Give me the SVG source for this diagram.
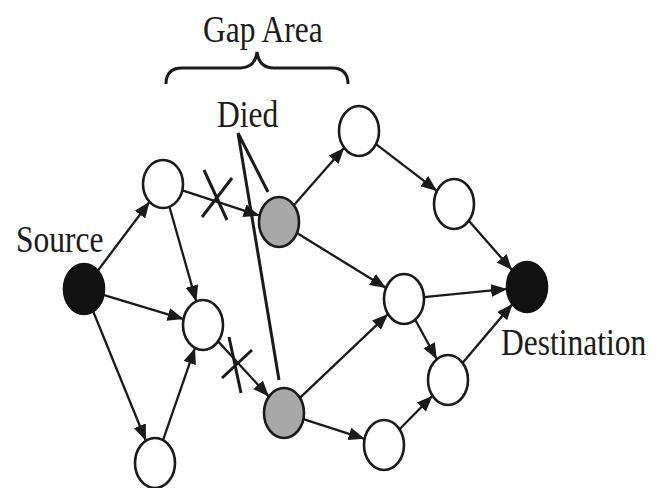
<svg xmlns="http://www.w3.org/2000/svg" width="659" height="488" viewBox="0 0 659 488">
<style>
.n{fill:#fff;stroke:#1a1a1a;stroke-width:2.6}
.g{fill:#a8a8a8;stroke:#1a1a1a;stroke-width:2.6}
.b{fill:#111;stroke:#111;stroke-width:2.6}
.e{stroke:#1a1a1a;stroke-width:2.3;fill:none;marker-end:url(#ah)}
.t{font-family:"Liberation Serif","Times New Roman",serif;font-size:31.5px;fill:#1a1a1a}
.k{stroke:#1a1a1a;stroke-width:3;fill:none}
</style>
<defs>
<marker id="ah" markerUnits="userSpaceOnUse" markerWidth="18" markerHeight="14" refX="16" refY="6.5" orient="auto">
<path d="M0,0 L16,6.5 L0,13 z" fill="#1a1a1a"/>
</marker>
</defs>
<rect width="659" height="488" fill="#fff"/>
<g id="labels">
<text class="t" transform="translate(203,42) scale(1,1.2)">Gap Area</text>
<path class="k" d="M166,84 Q166,68 182,68 L240,68 Q255,68 257,52 Q259,68 274,68 L332,68 Q348,68 348,84" stroke-width="2"/>
<text class="t" transform="translate(217,127) scale(1,1.2)">Died</text>
<text class="t" transform="translate(16,252) scale(1,1.2)">Source</text>
<text class="t" transform="translate(501,355) scale(1,1.2)">Destination</text>
<path class="k" d="M238,133 L268,192 M238,133 L279,380"/>
<path class="k" d="M204,170 L227,220 M202,217 L232,178"/>
<path class="k" d="M229,337 L241,393 M222,378 L252,350"/>
</g>
<g id="connectors">
<line class="e" x1="97.7" y1="270.8" x2="149.6" y2="201.8"/>
<line class="e" x1="103.4" y1="294.9" x2="183.6" y2="319.1"/>
<line class="e" x1="93.1" y1="311.3" x2="145.9" y2="440.7"/>
<line class="e" x1="169.4" y1="206.7" x2="196.3" y2="301.4"/>
<line class="e" x1="182.3" y1="190.3" x2="259.6" y2="215.7"/>
<line class="e" x1="163" y1="440.1" x2="195" y2="347.9"/>
<line class="e" x1="218.1" y1="341.4" x2="268.9" y2="396.6"/>
<line class="e" x1="293.8" y1="205.2" x2="344.2" y2="147.8"/>
<line class="e" x1="296.9" y1="233.1" x2="386.1" y2="287.9"/>
<line class="e" x1="299.9" y1="397.9" x2="388.1" y2="314.1"/>
<line class="e" x1="303.4" y1="419.2" x2="364.6" y2="438.8"/>
<line class="e" x1="376" y1="144.1" x2="437" y2="190.9"/>
<line class="e" x1="468.8" y1="220.8" x2="512.2" y2="270.2"/>
<line class="e" x1="423.9" y1="297.1" x2="507.1" y2="288.9"/>
<line class="e" x1="415.2" y1="319.7" x2="436.8" y2="359.3"/>
<line class="e" x1="462.5" y1="362.9" x2="512.5" y2="303.9"/>
<line class="e" x1="399.5" y1="429.2" x2="432.5" y2="395.8"/>
</g>
<g id="source"><ellipse class="b" cx="84" cy="289" rx="20" ry="25"/></g>
<g id="nA"><ellipse class="n" cx="163" cy="184" rx="20" ry="24"/></g>
<g id="nB"><ellipse class="n" cx="203" cy="325" rx="20" ry="25"/></g>
<g id="nC"><ellipse class="n" cx="155" cy="463" rx="20" ry="25"/></g>
<g id="g1"><ellipse class="g" cx="279" cy="222" rx="20" ry="25"/></g>
<g id="g2"><ellipse class="g" cx="284" cy="413" rx="20" ry="25"/></g>
<g id="t1"><ellipse class="n" cx="359" cy="131" rx="20" ry="25"/></g>
<g id="t2"><ellipse class="n" cx="454" cy="204" rx="20" ry="25"/></g>
<g id="m"><ellipse class="n" cx="404" cy="299" rx="20" ry="25"/></g>
<g id="destination"><ellipse class="b" cx="527" cy="287" rx="20" ry="25"/></g>
<g id="r2"><ellipse class="n" cx="448" cy="380" rx="20" ry="25"/></g>
<g id="r3"><ellipse class="n" cx="384" cy="445" rx="20" ry="25"/></g>
</svg>
